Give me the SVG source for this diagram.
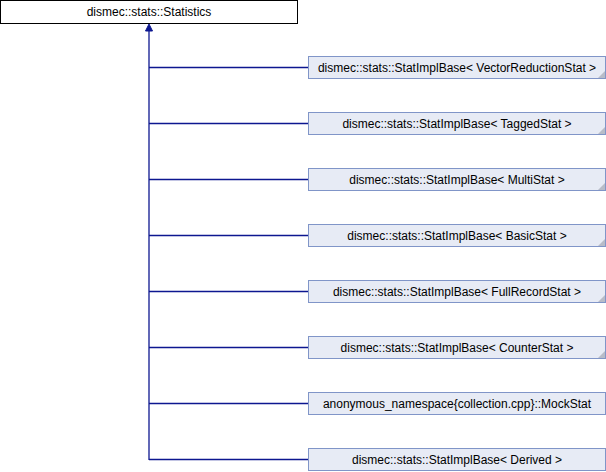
<svg xmlns="http://www.w3.org/2000/svg" width="606" height="472" viewBox="0 0 606 472">
<style>
.n rect{fill:#e7ebf5;stroke:#8095c8;stroke-width:1}
.root rect{fill:#ffffff;stroke:#000000;stroke-width:1}
text{font-family:"Liberation Sans",Arial,sans-serif;font-size:12px;fill:#000;text-anchor:middle}
.c{stroke:#0d1790;stroke-width:1.3;fill:none}
.f{fill:#b8bcc8}
</style>
<defs>
<marker id="ah" markerWidth="8" markerHeight="8" refX="4" refY="0" orient="auto-start-reverse" markerUnits="userSpaceOnUse" viewBox="0 0 8 8">
</marker>
</defs>
<g id="connectors">
<path class="c" d="M149,30V460"/>
<path class="c" d="M149,67.5H308M149,123.5H308M149,179.5H308M149,235.5H308M149,291.5H308M149,347.5H308M149,403.5H308M149,459.5H308"/>
<polygon points="149,24 145.5,31 152.5,31" fill="#0d1790" stroke="#0d1790"/>
</g>
<g id="root" class="root"><rect x="0.5" y="0.5" width="297" height="23"/><text x="149" y="16">dismec::stats::Statistics</text></g>
<g id="n1" class="n"><rect x="308.5" y="56.5" width="297" height="22"/><polygon class="f" points="605,71 605,78 598,78"/><text x="457" y="72">dismec::stats::StatImplBase&lt; VectorReductionStat &gt;</text></g>
<g id="n2" class="n"><rect x="308.5" y="112.5" width="297" height="22"/><polygon class="f" points="605,127 605,134 598,134"/><text x="457" y="128">dismec::stats::StatImplBase&lt; TaggedStat &gt;</text></g>
<g id="n3" class="n"><rect x="308.5" y="168.5" width="297" height="22"/><polygon class="f" points="605,183 605,190 598,190"/><text x="457" y="184">dismec::stats::StatImplBase&lt; MultiStat &gt;</text></g>
<g id="n4" class="n"><rect x="308.5" y="224.5" width="297" height="22"/><polygon class="f" points="605,239 605,246 598,246"/><text x="457" y="240">dismec::stats::StatImplBase&lt; BasicStat &gt;</text></g>
<g id="n5" class="n"><rect x="308.5" y="280.5" width="297" height="22"/><polygon class="f" points="605,295 605,302 598,302"/><text x="457" y="296">dismec::stats::StatImplBase&lt; FullRecordStat &gt;</text></g>
<g id="n6" class="n"><rect x="308.5" y="336.5" width="297" height="22"/><polygon class="f" points="605,351 605,358 598,358"/><text x="457" y="352">dismec::stats::StatImplBase&lt; CounterStat &gt;</text></g>
<g id="n7" class="n"><rect x="308.5" y="392.5" width="297" height="22"/><text x="457" y="408">anonymous_namespace{collection.cpp}::MockStat</text></g>
<g id="n8" class="n"><rect x="308.5" y="448.5" width="297" height="22"/><text x="457" y="464">dismec::stats::StatImplBase&lt; Derived &gt;</text></g>
</svg>
